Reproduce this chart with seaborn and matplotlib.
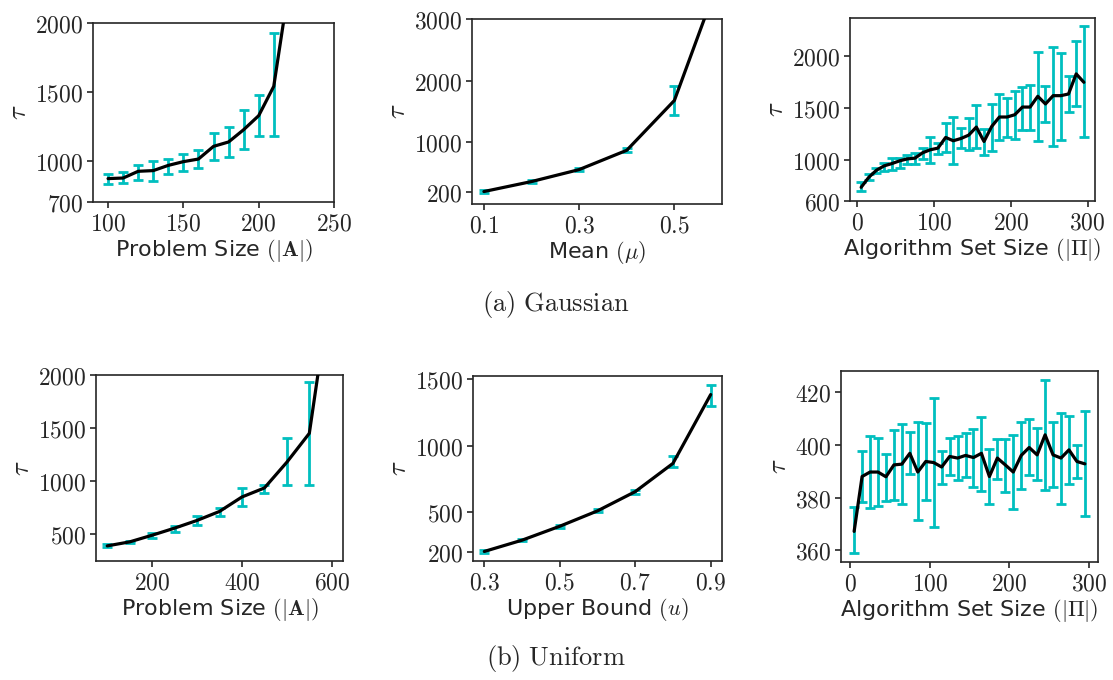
import numpy as np
import pandas as pd
import matplotlib
matplotlib.use("Agg")
import matplotlib.pyplot as plt
from matplotlib.ticker import FuncFormatter, FixedLocator
import seaborn as sns

# ---------------- data ----------------
# (a) Gaussian
g_size_x = [100, 110, 120, 130, 140, 150, 160, 170, 180, 190, 200, 210, 220]
g_size_y = [870, 874, 923, 928, 966, 993, 1012, 1104, 1136, 1225, 1327, 1540, 2260]
g_size_lo = [833, 835, 862, 850, 903, 928, 944, 1005, 1029, 1087, 1182, 1177, 2100]
g_size_hi = [903, 915, 971, 995, 1015, 1051, 1075, 1201, 1245, 1368, 1480, 1925, 2500]

g_mean_x = [0.1, 0.2, 0.3, 0.4, 0.5, 0.6]
g_mean_y = [202, 364, 558, 871, 1679, 3780]
g_mean_lo = [185, 345, 535, 836, 1442, 3500]
g_mean_hi = [219, 383, 581, 906, 1916, 4100]

g_alg_x = [5, 15, 25, 35, 45, 55, 65, 75, 85, 95, 105, 115, 125, 135, 145,
           155, 165, 175, 185, 195, 205, 215, 225, 235, 245, 255, 265, 275, 285, 295]
g_alg_y = [732, 829, 897, 939, 961, 987, 1006, 1013, 1065, 1094, 1110, 1213, 1181, 1203, 1235,
           1313, 1174, 1319, 1410, 1410, 1432, 1506, 1506, 1610, 1536, 1616, 1616, 1632, 1826, 1745]
g_alg_lo = [697, 800, 868, 890, 897, 916, 955, 955, 1006, 965, 1058, 1071, 955, 1110, 1090,
            1110, 1045, 1084, 1190, 1213, 1200, 1287, 1287, 1174, 1361, 1135, 1190, 1458, 1519, 1216]
g_alg_hi = [787, 858, 916, 968, 1013, 1019, 1039, 1065, 1110, 1213, 1161, 1355, 1406, 1303, 1397,
            1523, 1297, 1536, 1632, 1594, 1658, 1697, 1716, 2036, 1713, 2087, 2023, 1803, 2142, 2287]

# (b) Uniform
u_size_x = [100, 150, 200, 250, 300, 350, 400, 450, 500, 550, 600]
u_size_y = [383, 421, 484, 551, 624, 709, 846, 931, 1175, 1448, 2900]
u_size_lo = [370, 410, 456, 519, 576, 668, 757, 887, 960, 963, 2600]
u_size_hi = [402, 432, 503, 573, 668, 744, 931, 957, 1400, 1930, 3200]

u_ub_x = [0.3, 0.4, 0.5, 0.6, 0.7, 0.8, 0.9]
u_ub_y = [202, 287, 392, 508, 653, 866, 1385]
u_ub_lo = [192, 278, 380, 497, 638, 840, 1297]
u_ub_hi = [212, 296, 404, 519, 668, 921, 1460]

u_alg_x = g_alg_x
u_alg_y = [367.2, 388.0, 389.7, 389.7, 387.9, 392.4, 392.7, 396.8, 389.7, 393.7, 393.3, 391.6, 395.6, 395.0, 396.0,
           395.2, 396.8, 388.0, 395.0, 392.4, 389.7, 396.0, 399.0, 396.2, 403.8, 396.2, 395.0, 398.1, 393.7, 392.8]
u_alg_lo = [358.9, 378.3, 376.0, 376.7, 378.8, 379.2, 377.6, 388.9, 371.6, 379.2, 368.7, 385.1, 388.7, 386.8, 388.0,
            384.2, 382.6, 377.6, 387.1, 382.3, 375.8, 383.4, 388.7, 386.8, 383.0, 383.9, 377.7, 385.1, 387.6, 373.1]
u_alg_hi = [376.3, 397.7, 403.2, 402.5, 396.6, 405.7, 407.8, 404.8, 408.6, 408.2, 417.7, 397.7, 402.5, 403.2, 404.4,
            405.9, 410.7, 398.5, 402.3, 402.1, 403.8, 408.8, 409.8, 406.3, 424.6, 408.6, 412.2, 411.1, 400.0, 412.9]

xlabels = [r"Problem Size $(|\mathbf{A}|)$", r"Mean $(\mu)$", r"Algorithm Set Size $(|\mathbf{\Pi}|)$",
           r"Problem Size $(|\mathbf{A}|)$", r"Upper Bound $(u)$", r"Algorithm Set Size $(|\mathbf{\Pi}|)$"]
titles = [r"$\mathrm{(a)\ Gaussian}$", r"$\mathrm{(b)\ Uniform}$"]

# ---------------- style ----------------
sns.set_style("ticks")
plt.rcParams["font.family"] = ["DejaVu Sans"]
plt.rcParams["mathtext.fontset"] = "cm"
plt.rcParams["axes.linewidth"] = 1.2
plt.rcParams["xtick.major.width"] = 1.2
plt.rcParams["ytick.major.width"] = 1.2
plt.rcParams["xtick.major.size"] = 4
plt.rcParams["ytick.major.size"] = 4

W, H = 1113, 680
fig = plt.figure(figsize=(W / 100, H / 100), dpi=100)

# axes boxes in pixels: left, top, right, bottom
boxes = [(93, 23, 334, 202), (472, 19, 722, 204), (850, 18, 1095, 201),
         (96, 375, 343, 561), (473, 376, 722, 561), (841, 371, 1098, 562)]

panels = [
    (g_size_x, g_size_y, g_size_lo, g_size_hi, (90, 250), (700, 2000), [100, 150, 200, 250], [700, 1000, 1500, 2000]),
    (g_mean_x, g_mean_y, g_mean_lo, g_mean_hi, (0.075, 0.6), (0, 3000), [0.1, 0.3, 0.5], [200, 1000, 2000, 3000]),
    (g_alg_x, g_alg_y, g_alg_lo, g_alg_hi, (-9.5, 309.5), (600, 2365), [0, 100, 200, 300], [600, 1000, 1500, 2000]),
    (u_size_x, u_size_y, u_size_lo, u_size_hi, (75, 625), (240, 2000), [200, 400, 600], [500, 1000, 1500, 2000]),
    (u_ub_x, u_ub_y, u_ub_lo, u_ub_hi, (0.27, 0.93), (130, 1525), [0.3, 0.5, 0.7, 0.9], [200, 500, 1000, 1500]),
    (u_alg_x, u_alg_y, u_alg_lo, u_alg_hi, (-11.5, 311.5), (355.6, 428), [0, 100, 200, 300], [360, 380, 400, 420]),
]


def mathfmt(v, pos):
    s = ("%g" % v)
    return "$" + s + "$"


for i, (box, p) in enumerate(zip(boxes, panels)):
    l, t, r, b = box
    ax = fig.add_axes([l / W, 1 - b / H, (r - l) / W, (b - t) / H])
    x, y, lo, hi, xl, yl, xt, yt = p
    x = np.asarray(x, float)
    y = np.asarray(y, float)
    err = np.vstack([y - np.asarray(lo, float), np.asarray(hi, float) - y])
    ax.errorbar(x, y, yerr=err, fmt="none", ecolor="#00BFBF", elinewidth=2.0,
                capsize=3.5, capthick=2.0, zorder=2)
    df = pd.DataFrame({"x": x, "y": y})
    sns.lineplot(data=df, x="x", y="y", ax=ax, color="black", linewidth=2.3, zorder=3)
    ax.set_xlim(*xl)
    ax.set_ylim(*yl)
    ax.xaxis.set_major_locator(FixedLocator(xt))
    ax.yaxis.set_major_locator(FixedLocator(yt))
    ax.xaxis.set_major_formatter(FuncFormatter(mathfmt))
    ax.yaxis.set_major_formatter(FuncFormatter(mathfmt))
    ax.tick_params(axis="both", labelsize=17, pad=3)
    ax.set_xlabel(xlabels[i], fontsize=16, labelpad=1)
    ax.set_ylabel(r"$\tau$", fontsize=19, labelpad=2)

fig.text(556 / W, 1 - 305 / H, titles[0], ha="center", va="center", fontsize=19)
fig.text(556 / W, 1 - 658 / H, titles[1], ha="center", va="center", fontsize=19)

fig.savefig("out.png", dpi=100)
